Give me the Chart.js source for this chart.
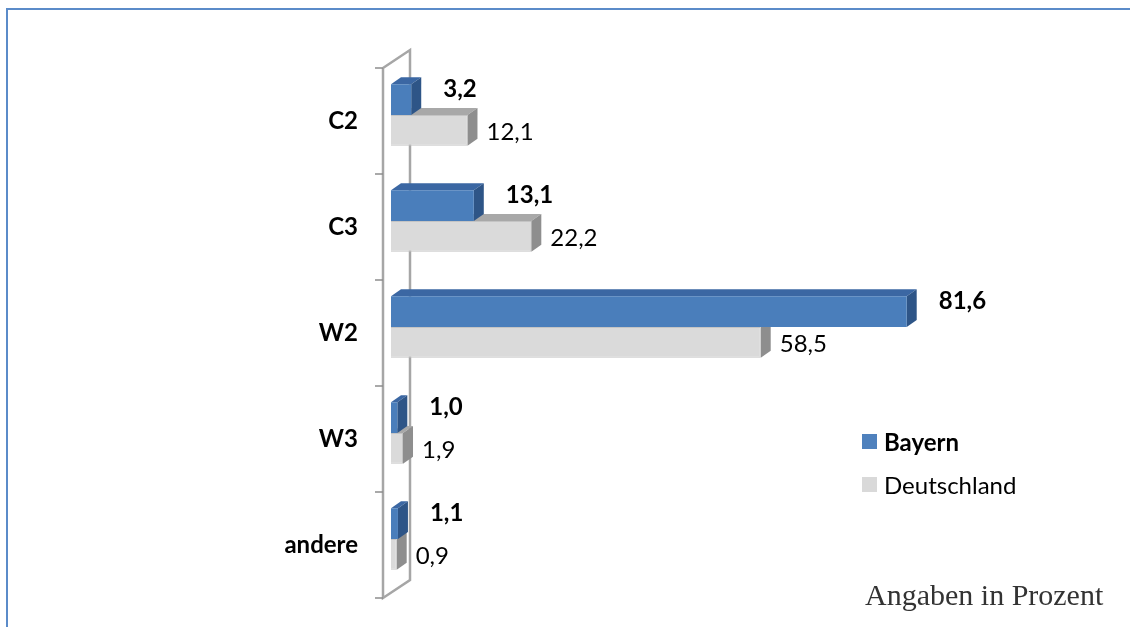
<!DOCTYPE html>
<html>
<head>
<meta charset="utf-8">
<script src="https://cdn.jsdelivr.net/npm/chart.js@4/dist/chart.umd.min.js"></script>
<style>
    html, body { margin: 0; padding: 0; background: #fff; }
    #wrap { position: relative; width: 1130px; height: 627px; overflow: hidden; }
    #frame {
        position: absolute; left: 6px; top: 8px; width: 1200px; height: 700px;
        border-left: 2px solid #5b8bc9; border-top: 2px solid #5b8bc9;
        pointer-events: none;
    }
    #legend { position: absolute; left: 862px; top: 424px; font-family: Lato, sans-serif; font-size: 24px; color: #000; }
    #legend div { display: flex; align-items: center; height: 34px; margin-bottom: 9px; }
    #legend span.box { width: 15px; height: 15px; margin-right: 7px; display: inline-block; }
    #note {
        position: absolute; left: 865px; top: 578px;
        font-family: "Liberation Serif", serif; font-size: 30px; color: #333;
    }
</style>
</head>
<body>
<div id="wrap">
    <canvas id="chart" width="1130" height="627"></canvas>
    <div id="frame"></div>
    <div id="legend"></div>
    <div id="note">Angaben in Prozent</div>
</div>

<script>
const categories = ['C2', 'C3', 'W2', 'W3', 'andere'];
const bayern = [3.2, 13.1, 81.6, 1.0, 1.1];
const deutschland = [12.1, 22.2, 58.5, 1.9, 0.9];
const seriesNames = ['Bayern', 'Deutschland'];

/* 3D look: depth of the bars and of the side wall */
const DEPTH = { dx: 10, dy: -7 };
const WALL = { front: -8, back: 19, frontDy: 6, backDy: -12 };

function fmt(v) {
    return v.toFixed(1).replace('.', ',');
}

/* ===================================================== */
/* 3D PLUGIN                                               */
/* ===================================================== */

const bars3d = {
    id: 'bars3d',
    beforeDatasetsDraw(chart) {
        const { ctx, chartArea } = chart;
        const xf = chartArea.left + WALL.front;
        const xb = chartArea.left + WALL.back;
        const t = chartArea.top, b = chartArea.bottom;

        ctx.save();
        ctx.strokeStyle = '#a6a6a6';
        ctx.lineWidth = 2.5;
        ctx.beginPath();
        ctx.moveTo(xf, t + WALL.frontDy);
        ctx.lineTo(xf, b + WALL.frontDy);
        ctx.lineTo(xb, b + WALL.backDy);
        ctx.lineTo(xb, t + WALL.backDy);
        ctx.lineTo(xf, t + WALL.frontDy);
        ctx.stroke();

        // tick marks between categories
        ctx.lineWidth = 1.5;
        ctx.strokeStyle = '#8c8c8c';
        const n = categories.length;
        for (let i = 0; i <= n; i++) {
            const y = t + (b - t) * i / n + WALL.frontDy;
            ctx.beginPath();
            ctx.moveTo(xf - 8, y);
            ctx.lineTo(xf, y);
            ctx.stroke();
        }
        ctx.restore();
    },
    beforeDatasetDraw(chart, args) {
        const { ctx } = chart;
        const ds = chart.data.datasets[args.index];
        ctx.save();
        args.meta.data.forEach(el => {
            const p = el.getProps(['x', 'y', 'base', 'height'], true);
            const top = p.y - p.height / 2;
            const bot = p.y + p.height / 2;

            ctx.fillStyle = ds.topColor;
            ctx.beginPath();
            ctx.moveTo(p.base, top);
            ctx.lineTo(p.x, top);
            ctx.lineTo(p.x + DEPTH.dx, top + DEPTH.dy);
            ctx.lineTo(p.base + DEPTH.dx, top + DEPTH.dy);
            ctx.closePath();
            ctx.fill();

            ctx.fillStyle = ds.sideColor;
            ctx.beginPath();
            ctx.moveTo(p.x, top);
            ctx.lineTo(p.x + DEPTH.dx, top + DEPTH.dy);
            ctx.lineTo(p.x + DEPTH.dx, bot + DEPTH.dy);
            ctx.lineTo(p.x, bot);
            ctx.closePath();
            ctx.fill();
        });
        ctx.restore();
    }
};

/* ===================================================== */
/* VALUE LABELS                                            */
/* ===================================================== */

const valueLabels = {
    id: 'valueLabels',
    afterDatasetsDraw(chart) {
        const { ctx } = chart;
        ctx.save();
        ctx.textBaseline = 'middle';
        ctx.textAlign = 'left';
        ctx.fillStyle = '#000';
        chart.data.datasets.forEach((ds, i) => {
            const meta = chart.getDatasetMeta(i);
            ctx.font = (i === 0 ? 'bold ' : '') + '24px Lato';
            meta.data.forEach((el, j) => {
                const p = el.getProps(['x', 'y'], true);
                const gap = i === 0 ? 22 : 9;
                const dy = i === 0 ? -10 : 2;
                ctx.fillText(fmt(ds.data[j]), p.x + DEPTH.dx + gap, p.y + dy);
            });
        });
        ctx.restore();
    }
};

/* ===================================================== */
/* CHART                                                   */
/* ===================================================== */

const chart = new Chart(document.getElementById('chart'), {
    type: 'bar',
    data: {
        labels: categories,
        datasets: [{
            label: seriesNames[0],
            data: bayern,
            backgroundColor: '#4a7ebb',
            topColor: '#3b67a3',
            sideColor: '#2e5587',
            categoryPercentage: 0.58,
            barPercentage: 1
        }, {
            label: seriesNames[1],
            data: deutschland,
            backgroundColor: '#dadada',
            borderColor: '#c4c4c4',
            borderWidth: 1,
            topColor: '#a8a8a8',
            sideColor: '#8e8e8e',
            categoryPercentage: 0.58,
            barPercentage: 1
        }]
    },
    options: {
        indexAxis: 'y',
        responsive: false,
        animation: false,
        devicePixelRatio: 1,
        layout: { padding: { top: 62, bottom: 35, left: 0, right: 107 } },
        plugins: {
            legend: { display: false },
            tooltip: { enabled: false }
        },
        scales: {
            x: {
                display: false,
                min: 0,
                max: 100
            },
            y: {
                grid: { display: false, drawTicks: false },
                border: { display: false },
                afterFit: s => {
                    s.width = 391;
                    s.paddingTop = 0;
                    s.paddingBottom = 0;
                },
                ticks: {
                    padding: 33,
                    labelOffset: 6,
                    color: '#000',
                    font: { family: 'Lato', size: 24, weight: 'bold' }
                }
            }
        }
    },
    plugins: [bars3d, valueLabels]
});

/* ===================================================== */
/* LEGEND                                                  */
/* ===================================================== */

const legendEl = document.getElementById('legend');
const legendColors = ['#4f81bd', '#d9d9d9'];
chart.data.datasets.forEach((ds, i) => {
    const row = document.createElement('div');
    row.innerHTML = `<span class="box" style="background:${legendColors[i]}"></span>` +
        `<span style="font-weight:${i === 0 ? 'bold' : 'normal'}">${ds.label}</span>`;
    legendEl.appendChild(row);
});
</script>
</body>
</html>
